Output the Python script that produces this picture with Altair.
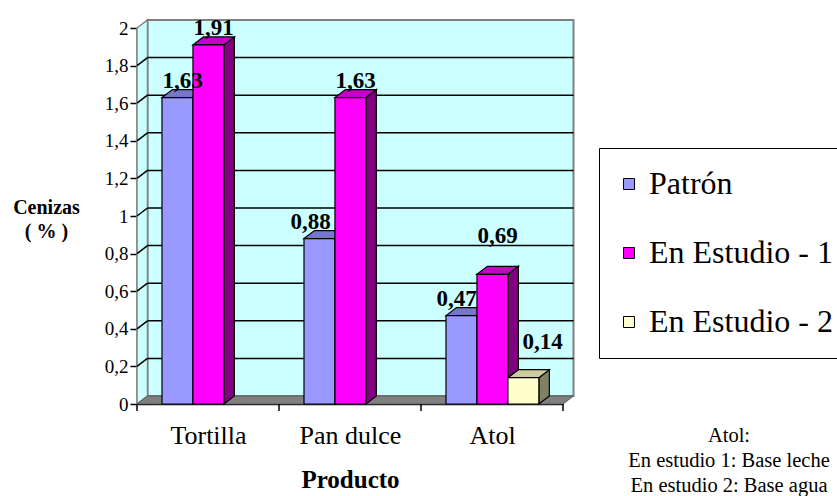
import json
import altair as alt
import pandas as pd

# --- data ---------------------------------------------------------------
categories = ["Tortilla", "Pan dulce", "Atol"]
series = ["Patrón", "En Estudio - 1", "En Estudio - 2"]
patron = [1.63, 0.88, 0.47]
estudio_1 = [1.91, 1.63, 0.69]
estudio_2 = [None, None, 0.14]
y_ticks = [0, 0.2, 0.4, 0.6, 0.8, 1.0, 1.2, 1.4, 1.6, 1.8, 2.0]
note_lines = ["Atol:", "En estudio 1: Base leche", "En estudio 2: Base agua"]

# --- styling --------------------------------------------------------------
front_colors = ["#9999FF", "#FF00FF", "#FFFFCC"]
top_colors = ["#7777C6", "#C800C8", "#CCCC9E"]
side_colors = ["#4D4D80", "#800080", "#808066"]
WALL = "#CCFFFF"
FLOOR = "#808080"
FONT = "Liberation Serif"

# pixel nudges for value labels that sit away from their bar: (category, series) -> (dx, dy)
label_nudge = {(1, 0): (-14, 0), (2, 0): (-10, 0), (2, 1): (0, -21), (2, 2): (14, -19)}

W, H = 426, 376            # front plane of the plot, px
Y_MAX = 2.0
N = len(categories)
DX = 10.5 * N / W          # 3-D depth, x units
DY = 8 * Y_MAX / H         # 3-D depth, y units
GROUP_START = 0.176        # first bar offset inside a category band
BAR_W = 0.218              # bar width in band units

xs = alt.Scale(domain=[0, N], nice=False, zero=False)
ys = alt.Scale(domain=[0, Y_MAX], nice=False, zero=False)

x_axis = alt.Axis(
    values=[k + 0.5 for k in range(N)],
    labelExpr=f"{json.dumps(categories)}[floor(datum.value)]",
    ticks=False, domainColor="black", domainWidth=1.5, grid=False,
    labelFont=FONT, labelFontSize=26, labelColor="black", labelBaseline="alphabetic",
    labelPadding=39, labelFlush=False, labelOverlap=False,
    title="Producto", titleFont=FONT, titleFontSize=25, titleFontWeight="bold", titleColor="black",
    titleBaseline="alphabetic", titleY=83,
)
y_axis = alt.Axis(
    values=y_ticks, format=".1~f", labelExpr="replace(datum.label, '.', ',')",
    tickSize=7, tickWidth=1.5, tickColor="black", domainColor="black", domainWidth=1.5, grid=False,
    labelFont=FONT, labelFontSize=19, labelColor="black", labelPadding=2,
    title=["Cenizas", "( % )"], titleFont=FONT, titleFontSize=20, titleFontWeight="bold",
    titleColor="black", titleAngle=0, titleAlign="center", titleBaseline="alphabetic",
    titleX=-91, titleY=185, titleLineHeight=24,
)


def X(field):
    return alt.X(field, type="quantitative", scale=xs, axis=x_axis)


def Y(field):
    return alt.Y(field, type="quantitative", scale=ys, axis=y_axis)


values_by_series = [patron, estudio_1, estudio_2]

bars, tops, sides = [], [], []
for j, (name, vals) in enumerate(zip(series, values_by_series)):
    for i, v in enumerate(vals):
        if v is None:
            continue
        x0 = i + GROUP_START + j * BAR_W
        x1 = x0 + BAR_W
        bid = f"{i}-{j}"
        ndx, ndy = label_nudge.get((i, j), (0, 0))
        bars.append({"serie": name, "cat": categories[i], "v": v, "zero": 0.0, "x0": x0, "x1": x1,
                     "lx": (x0 + x1 + DX) / 2 + ndx * N / W, "ly": v + DY - ndy * Y_MAX / H,
                     "label": f"{v:.2f}".replace(".", ",")})
        for x, t, b in [(x0, v, v), (x0 + DX, v + DY, v), (x1, v + DY, v), (x1 + DX, v + DY, v + DY)]:
            tops.append({"bar": bid, "x": x, "t": t, "b": b, "fill": top_colors[j]})
        for x, t, b in [(x1, v, 0), (x1 + DX, v + DY, DY)]:
            sides.append({"bar": bid, "x": x, "t": t, "b": b, "fill": side_colors[j]})

bars = pd.DataFrame(bars)
tops = pd.DataFrame(tops)
sides = pd.DataFrame(sides)

# --- walls and floor --------------------------------------------------------
back = alt.Chart(pd.DataFrame([{"x": DX, "x2": N + DX, "y": DY, "y2": Y_MAX + DY}])).mark_rect(
    fill=WALL, stroke="#808080", strokeWidth=2
).encode(x=X("x"), x2="x2", y=Y("y"), y2="y2")

side_wall = alt.Chart(pd.DataFrame({"x": [0, DX], "t": [Y_MAX, Y_MAX + DY], "b": [0, DY]})).mark_area(
    fill=WALL, stroke="#808080", strokeWidth=1.5
).encode(x=X("x"), y=Y("t"), y2="b")

floor = alt.Chart(pd.DataFrame({"x": [0, DX, N, N + DX], "t": [0, DY, DY, DY], "b": [0, 0, 0, DY]})).mark_area(
    fill=FLOOR, stroke="#5A5A5A", strokeWidth=1
).encode(x=X("x"), y=Y("t"), y2="b")

grid_levels = pd.DataFrame({"t": [v for v in y_ticks if 0 < v < Y_MAX]})
grid_levels["tb"] = grid_levels["t"] + DY
grid_levels["xa"] = 0.0
grid_levels["xb"] = DX
grid_levels["xc"] = N + DX

grid_back = alt.Chart(grid_levels).mark_rule(color="black", strokeWidth=1.5).encode(
    x=X("xb"), x2="xc", y=Y("tb"),
)
grid_side = alt.Chart(grid_levels).mark_rule(color="black", strokeWidth=1.5).encode(
    x=X("xa"), x2="xb", y=Y("t"), y2="tb",
)

# category separators below the x axis
seps = pd.DataFrame({"x": [float(k) for k in range(N + 1)], "y": 0.0})
sep_ticks = alt.Chart(seps).mark_rule(color="black", strokeWidth=1.5).encode(
    x=X("x"), y=Y("y"), y2=alt.value(H + 7)
)

# --- bars -----------------------------------------------------------------
side_faces = alt.Chart(sides).mark_area(stroke="black", strokeWidth=1.2).encode(
    x=X("x"), y=Y("t"), y2="b",
    fill=alt.Fill("fill:N", scale=None), detail="bar:N",
)
top_faces = alt.Chart(tops).mark_area(stroke="black", strokeWidth=1.2).encode(
    x=X("x"), y=Y("t"), y2="b",
    fill=alt.Fill("fill:N", scale=None), detail="bar:N",
)

front_faces = alt.Chart(bars).mark_rect(stroke="black", strokeWidth=1.2).encode(
    x=X("x0"), x2="x1", y=Y("v"), y2="zero",
    color=alt.Color(
        "serie:N",
        scale=alt.Scale(domain=series, range=front_colors),
        legend=alt.Legend(
            title=None, orient="none", legendX=462, legendY=120, direction="vertical",
            symbolType="square", symbolSize=121, symbolStrokeColor="black", symbolStrokeWidth=1,
            symbolOffset=-6, labelOffset=4, labelFont=FONT, labelFontSize=32, labelColor="black",
            rowPadding=37, padding=20, strokeColor="black", fillColor="white", labelLimit=400,
        ),
    ),
)

labels = alt.Chart(bars).mark_text(
    font=FONT, fontSize=23, fontWeight="bold", color="black", baseline="alphabetic", dy=-2
).encode(x=X("lx"), y=Y("ly"), text="label:N")

# explanatory note (pixel positions relative to the plot origin)
note_df = pd.DataFrame({"line": note_lines, "px": 592.0, "py": [414.0 + 25 * k for k in range(len(note_lines))]})
note = alt.Chart(note_df).mark_text(
    font=FONT, fontSize=20.5, color="black", align="center", baseline="alphabetic"
).encode(x=alt.X("px:Q", scale=None, axis=None), y=alt.Y("py:Q", scale=None, axis=None), text="line:N")

chart = alt.layer(
    back, side_wall, floor, grid_back, grid_side, sep_ticks, side_faces, top_faces, front_faces, labels, note
).properties(
    width=W, height=H, autosize="none",
    padding={"left": 137, "top": 28, "right": 274, "bottom": 92},
    background="white",
).configure_view(strokeWidth=0).configure(font=FONT)

chart.save("out.html", embed_options={"renderer": "svg", "actions": False})
